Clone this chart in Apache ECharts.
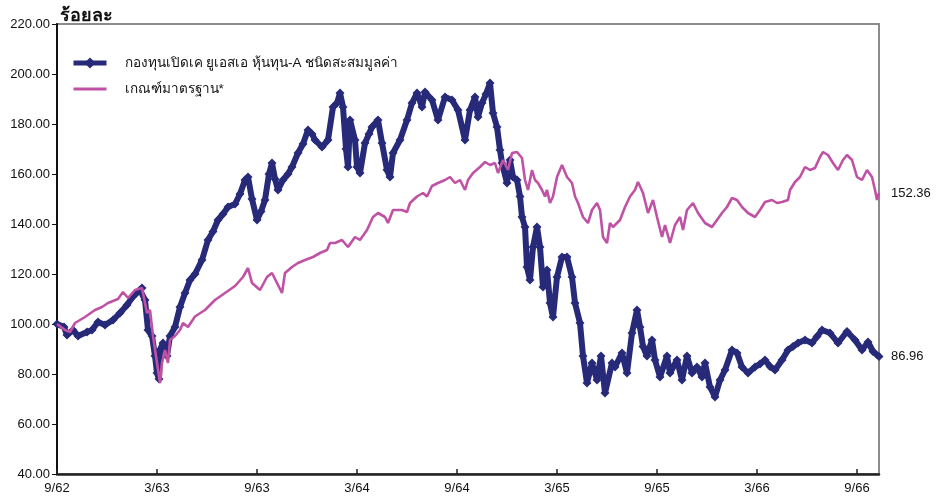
<!DOCTYPE html>
<html>
<head>
<meta charset="utf-8">
<script src="https://cdn.jsdelivr.net/npm/echarts@6/dist/echarts.min.js"></script>
<style>html,body{margin:0;padding:0;background:#fff}#c{width:939px;height:497px}</style>
</head>
<body>
<div id="c"></div>
<script>
// Tick labels (every 6 months, Thai Buddhist-era years)
const xTickLabels = ['9/62','3/63','9/63','3/64','9/64','3/65','9/65','3/66','9/66'];
const seriesNames = ['กองทุนเปิดเค ยูเอสเอ หุ้นทุน-A ชนิดสะสมมูลค่า', 'เกณฑ์มาตรฐาน*'];

// Fund: months since 9/62 and values (%)
const fundMonths = [0,0.42,0.6,0.96,1.26,1.8,2.1,2.46,2.88,3.36,3.78,4.2,4.56,4.98,5.1,5.28,5.46,5.7,5.88,6.0,6.12,6.18,6.36,6.6,6.78,7.08,7.38,7.68,7.98,8.28,8.7,9.06,9.36,9.66,9.96,10.26,10.68,10.98,11.28,11.46,11.7,12.0,12.24,12.48,12.72,12.9,13.08,13.26,13.56,13.86,14.1,14.46,14.76,15.06,15.3,15.48,15.9,16.26,16.56,16.8,16.98,17.16,17.34,17.46,17.58,17.88,18.0,18.18,18.48,18.72,18.9,19.26,19.5,19.8,19.98,20.16,20.58,21.0,21.3,21.6,21.9,22.08,22.5,22.86,23.28,23.7,24.06,24.48,24.78,25.08,25.26,25.5,25.74,25.98,26.16,26.4,26.58,26.7,27.0,27.18,27.36,27.6,27.78,27.9,28.08,28.2,28.38,28.56,28.8,28.98,29.16,29.4,29.58,29.76,30.0,30.3,30.6,30.9,31.08,31.38,31.56,31.8,32.1,32.4,32.64,32.88,33.3,33.48,33.9,34.2,34.5,34.8,34.98,35.16,35.4,35.7,35.88,36.18,36.6,36.78,37.2,37.5,37.8,38.1,38.4,38.7,38.88,39.18,39.48,39.78,40.08,40.5,40.8,41.1,41.46,41.88,42.18,42.48,42.78,43.08,43.5,43.86,44.16,44.46,44.88,45.3,45.6,45.9,46.38,46.86,47.4,47.88,48.3,48.66,48.96,49.32];
const fundValues = [100,98.8,95.6,97.6,95.2,96.8,97.6,100.8,99.6,101.6,104.4,107.6,111,113.6,114.4,109.6,97.6,95.2,87.2,80.4,78,89.6,92.4,87.2,95.2,98.8,106.8,112.4,117.6,120,125.6,133.6,137,141.6,144,146.8,148,152,157.6,158.8,150,141.6,145,149.6,160,164.4,158,153.6,157.6,160,162.8,168.4,172,177.6,176,173.6,170.8,173.6,186.8,188.4,192.4,186.8,170,162.8,181.6,173.6,162.8,160.4,172.4,176,178.8,181.6,172.4,161.6,158.8,168.4,173.6,181.6,188.4,192.4,186.8,192.8,189.6,181.6,190.8,189.6,185.6,173.6,185.6,190.8,182.8,188.4,192,196.4,184.4,178.8,169.6,164.4,156.4,165.6,158.8,157.6,151,142.8,138.8,122.8,117.6,130.8,138.8,130.8,114.8,121.6,108.4,102.8,118.8,126.8,126.8,118.8,108.4,100.4,87.2,76.4,84.4,77.6,87.2,72.4,84.4,82.8,88.4,80.4,96.4,105.6,98.8,91,87.2,93.6,85.6,78.8,87.2,80.4,85.6,77.6,87.2,80.4,82.8,78.8,84.4,74.8,70.8,77.6,81.6,89.6,88.4,82.8,80.4,82.8,84,85.6,83,81.6,85.6,89.6,91,92.4,93.6,92.4,95,97.6,96.4,92.4,97,93.6,89.6,92.8,89,86.96];

// Benchmark
const benchMonths = [0,0.48,0.78,1.08,1.68,2.28,2.7,3.06,3.36,3.66,3.96,4.26,4.68,5.1,5.4,5.58,5.76,6.0,6.18,6.3,6.48,6.66,6.78,7.08,7.38,7.56,7.86,8.28,8.88,9.48,10.08,10.68,11.16,11.46,11.7,12.18,12.6,12.9,13.2,13.5,13.68,14.1,14.46,14.88,15.36,15.78,16.2,16.38,16.68,17.1,17.46,17.88,18.18,18.6,18.96,19.26,19.68,19.86,20.16,20.7,21.0,21.18,21.6,21.96,22.2,22.5,22.86,23.28,23.58,23.88,24.18,24.48,24.66,24.96,25.38,25.68,25.98,26.28,26.46,26.76,27.06,27.3,27.6,27.9,28.08,28.26,28.5,28.68,28.86,29.1,29.28,29.4,29.58,29.76,30.0,30.3,30.6,30.9,31.08,31.26,31.56,31.86,32.1,32.4,32.58,32.76,33.0,33.18,33.36,33.78,34.08,34.38,34.68,34.86,35.16,35.46,35.76,36.0,36.3,36.48,36.78,37.08,37.38,37.56,37.8,38.16,38.46,38.88,39.3,39.6,39.9,40.2,40.5,40.8,41.1,41.46,41.88,42.18,42.48,42.9,43.2,43.5,43.86,43.98,44.28,44.58,44.88,45.18,45.48,45.78,45.96,46.26,46.56,46.86,47.16,47.4,47.7,48.0,48.3,48.6,48.9,49.08,49.2,49.32];
const benchValues = [100,97.6,96.8,100.4,102.8,105.6,106.8,108.4,109.2,110,112.8,110.4,113.6,114.4,104.4,105.6,95.2,84.4,76.4,84.4,89.6,84.4,93.6,95.2,97.6,100.4,98.8,103,105.6,109.6,112.4,115.2,118.8,122.4,116.4,113.6,118.8,120.4,116.4,112.4,120.4,122.8,124.4,125.6,126.8,128.4,129.6,132.4,132.4,133.6,130.8,134.8,133.6,137.6,142.8,144.4,142.8,140.4,145.6,145.6,144.8,148.4,151,152.4,151,155.2,156.4,157.6,158.8,156.4,157.6,153.6,157.6,160.4,162.8,164.8,163.6,164.4,160.4,165.6,161.6,168.4,168.8,166.4,157.6,153.6,161.6,157.6,156.4,153.6,151,153.6,148.4,151,158.8,163.6,158.8,156.4,151,148.4,142.8,140.4,145.6,148.4,145.6,134.8,132.4,140.4,138.8,141.6,146.8,151,153.6,156.8,152.4,144.4,149.6,142.8,134.8,139.6,132.4,139.6,142.8,137.6,145.6,148.4,144.4,140.4,138.8,141.6,144.4,146.8,150.4,149.6,146.8,144.4,142.8,145.6,148.8,149.6,148.4,148.8,149.6,153.6,156.8,158.8,162.8,161.6,162.4,166.8,168.8,167.6,164.4,161.6,165.6,167.6,165.6,158.8,157.6,161.6,158.8,153.6,149.6,152.36];

const pair = (xs, ys) => xs.map((x, i) => [x, ys[i]]);
const font = 'Arial, "Liberation Sans", sans-serif';
const navy = '#262a78';
const pink = '#c052a6';

const chart = echarts.init(document.getElementById('c'), null, {renderer: 'canvas'});
chart.setOption({
  animation: false,
  backgroundColor: '#fff',
  title: {
    text: 'ร้อยละ', left: 55, top: 2,
    textStyle: {fontSize: 18, fontWeight: 'bold', color: '#111', fontFamily: font}
  },
  legend: {
    orient: 'vertical', left: 71, top: 56, itemGap: 12, padding: 0,
    itemWidth: 33, itemHeight: 14,
    textStyle: {fontSize: 13.5, color: '#111', fontFamily: font, padding: [0, 0, 0, 13]},
    data: [
      {name: seriesNames[0], lineStyle: {width: 5}},
      {name: seriesNames[1], icon: 'path://M0,0H33V3H0Z', itemStyle: {color: pink}}
    ]
  },
  grid: {
    left: 57, right: 60, top: 24, bottom: 23,
    show: true, borderColor: '#8c8c8c', borderWidth: 2, backgroundColor: '#fff'
  },
  xAxis: {
    type: 'value', min: 0, max: 49.32, interval: 6,
    axisLine: {lineStyle: {color: '#222', width: 2.5}},
    axisTick: {inside: true, length: 5, lineStyle: {color: '#222', width: 1.5}},
    splitLine: {show: false},
    axisLabel: {
      fontSize: 13, color: '#111', fontFamily: font, margin: 8, showMaxLabel: false,
      formatter: v => xTickLabels[Math.round(v / 6)] || ''
    }
  },
  yAxis: {
    type: 'value', min: 40, max: 220, interval: 20,
    axisLine: {show: true, lineStyle: {color: '#111', width: 2}},
    axisTick: {show: true, length: 5, lineStyle: {color: '#111'}},
    splitLine: {show: false},
    axisLabel: {fontSize: 13, color: '#111', fontFamily: font, margin: 7, formatter: v => v.toFixed(2)}
  },
  series: [
    {
      name: seriesNames[1], type: 'line', data: pair(benchMonths, benchValues),
      showSymbol: false, symbol: 'none',
      lineStyle: {color: pink, width: 2.6},
      itemStyle: {color: pink},
      endLabel: {show: true, distance: 12, fontSize: 13, color: '#111', fontFamily: font, formatter: p => p.value[1].toFixed(2)},
      z: 3
    },
    {
      name: seriesNames[0], type: 'line', data: pair(fundMonths, fundValues),
      symbol: 'diamond', symbolSize: 9, showSymbol: true, showAllSymbol: true,
      lineStyle: {color: navy, width: 6},
      itemStyle: {color: navy},
      endLabel: {show: true, distance: 12, fontSize: 13, color: '#111', fontFamily: font, formatter: p => p.value[1].toFixed(2)},
      z: 2
    }
  ]
});
</script>
</body>
</html>
